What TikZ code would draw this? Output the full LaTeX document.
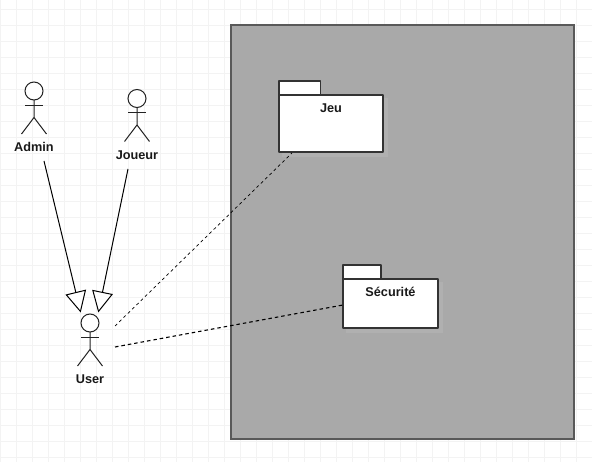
\documentclass[tikz,border=0pt]{standalone}
\usepackage{fontspec}
\setmainfont{Liberation Sans}
\usetikzlibrary{arrows.meta}
\definecolor{gridminor}{HTML}{F3F3F3}
\definecolor{framefill}{HTML}{A9A9A9}
\definecolor{inkline}{HTML}{222222}
\tikzset{
  x=1pt,y=-1pt,
  every node/.style={inner sep=0pt,outer sep=0pt},
  lbl/.style={font=\fontsize{12.7}{14}\selectfont\bfseries,text=black!90},
  actorline/.style={draw=inkline,line width=1pt},
  frame/.style={draw=black!65,line width=1.2pt,fill=framefill},
  pkg/.style={draw=black!80,line width=1.2pt,fill=white,line join=round},
  gen/.style={draw=black,line width=1pt,-{Triangle[open,length=21pt,width=21pt,fill=white]}},
  dep/.style={draw=black,line width=0.7pt,dash pattern=on 3pt off 3pt},
  depb/.style={draw=black,line width=1.1pt,dash pattern=on 3.5pt off 3pt},
  shadow/.style={fill=framefill!92!white,draw=none}
}
\newcommand{\stick}[3]{% x, head y, name
  \node[actorline,circle,minimum size=18pt,fill=white] (#3) at (#1,#2) {};
  \draw[actorline] (#3.south) -- ++(0,17.5) coordinate (#3hip) -- ++(-12.5,16.5);
  \draw[actorline] (#3hip) -- ++(12.5,16.5);
  \draw[actorline] (#1-9,#2+14.5) -- (#1+9,#2+14.5);
}
\begin{document}
\begin{tikzpicture}
\useasboundingbox (0,0) rectangle (592,462);
\fill[white] (0,0) rectangle (592,462);
\foreach \i in {0,...,37}{\draw[gridminor,line width=0.7pt] (\i*16,0) -- (\i*16,462);}
\foreach \i in {0,...,28}{\draw[gridminor,line width=0.7pt] (0,9+\i*16) -- (592,9+\i*16);}

\draw[frame] (231,25) rectangle (574,439);

\fill[shadow] (282,98) rectangle (388,157);
\draw[pkg] (279,95) -- (279,81) -- (320.5,81) -- (320.5,95);
\draw[pkg] (279,95) rectangle (383,152);
\node[lbl] (jeu) at (331,108.5) {Jeu};
\coordinate (jeuport) at (292,153);

\fill[shadow] (346,282) rectangle (443,333);
\draw[pkg] (343,279) -- (343,265) -- (381,265) -- (381,279);
\draw[pkg] (343,279) rectangle (438,328);
\node[lbl] (secu) at (390.5,292) {Sécurité};
\coordinate (secuport) at (343,305);

\stick{34}{91}{admin}
\stick{137}{98.5}{joueur}
\stick{90}{323}{user}
\node[lbl] (adminl) at (34,147) {Admin};
\node[lbl] (joueurl) at (137,155) {Joueur};
\node[lbl] (userl) at (90,379) {User};

\coordinate (adminfrom) at (44,161);
\coordinate (joueurfrom) at (128,169);
\coordinate (usertipa) at (80.7,312.5);
\coordinate (usertipb) at (98.3,312.5);
\coordinate (userdepa) at (115,326);
\coordinate (userdepb) at (115,347);
\draw[gen] (adminfrom) -- (usertipa);
\draw[gen] (joueurfrom) -- (usertipb);
\draw[dep] (userdepa) -- (jeuport);
\draw[depb] (userdepb) -- (secuport);
\end{tikzpicture}
\end{document}
